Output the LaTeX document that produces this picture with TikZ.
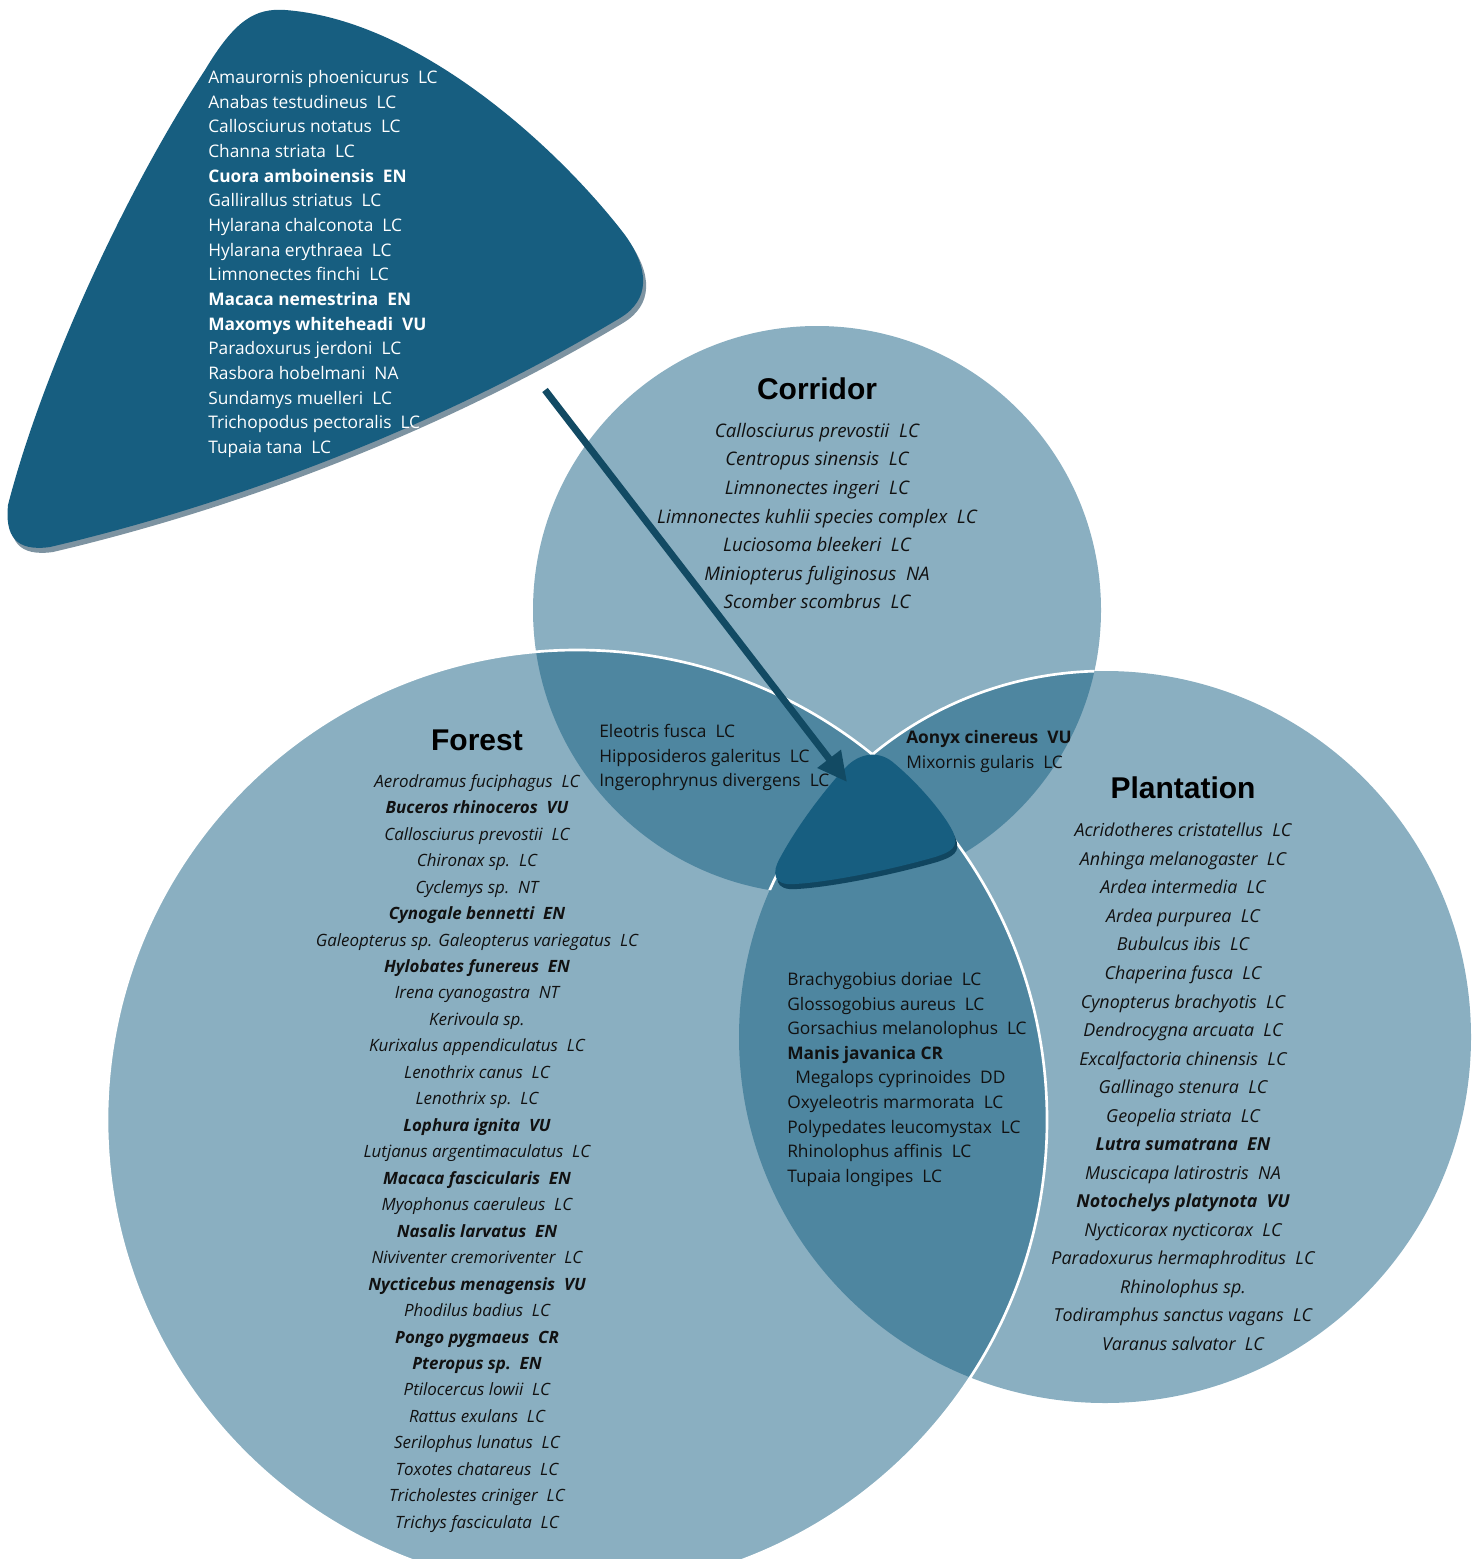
\documentclass[tikz,border=0pt]{standalone}
\usepackage{fontspec}
\setmainfont{Open Sans}
\newfontfamily\headfont{Liberation Sans}
\usetikzlibrary{arrows.meta,positioning}

\definecolor{ringlight}{HTML}{8AAFC1}
\definecolor{ringmid}{HTML}{4E86A0}
\definecolor{ringdark}{HTML}{175E80}
\definecolor{pointerblue}{HTML}{124A63}
\definecolor{shadowgrey}{HTML}{7D93A1}
\definecolor{listtext}{HTML}{111111}

\begin{document}
\begin{tikzpicture}[x=0.75pt,y=-0.75pt,
    title/.style={font=\headfont\bfseries\fontsize{22.5}{27}\selectfont, inner sep=0},
    ringlist/.style={font=\itshape\fontsize{14}{21.4}\selectfont, align=center,
                     anchor=north, inner sep=0, text=listtext},
    lapflush/.style={font=\fontsize{13}{18.45}\selectfont, align=left,
                     anchor=north west, inner sep=0, text=listtext},
    pointer/.style={line width=5.2pt, pointerblue, -{Triangle[length=22pt,width=21pt]}}]

\clip (0,0) rectangle (1473,1559);

\coordinate (corridorc) at (817,610);
\coordinate (forestc) at (577,1120);
\coordinate (plantc) at (1105,1037);

% the three sets
\fill[ringlight] (corridorc) circle [radius=284];
\fill[ringlight] (forestc) circle [radius=470];
\fill[ringlight] (plantc) circle [radius=366];

% overlaps
\begin{scope}
  \clip (corridorc) circle [radius=284];
  \fill[ringmid] (forestc) circle [radius=470];
  \fill[ringmid] (plantc) circle [radius=366];
\end{scope}
\begin{scope}
  \clip (forestc) circle [radius=470];
  \fill[ringmid] (plantc) circle [radius=366];
\end{scope}

% white rims
\draw[white, line width=2pt] (forestc) circle [radius=470];
\begin{scope}
  \clip (corridorc) circle [radius=284];
  \draw[white, line width=2pt] (plantc) circle [radius=366];
\end{scope}

% shared core
\fill[ringdark!75!black] (847,773) .. controls (862,757) and (882,755) .. (897,769)
  .. controls (922,790) and (947,820) .. (955,837)
  .. controls (962,853) and (952,857) .. (937,862)
  .. controls (892,875) and (832,887) .. (797,889)
  .. controls (774,891) and (774,877) .. (782,863)
  .. controls (797,835) and (822,800) .. (847,773) -- cycle;
\fill[ringdark] (845,768) .. controls (860,752) and (880,750) .. (895,764)
  .. controls (920,785) and (945,815) .. (953,832)
  .. controls (960,848) and (950,852) .. (935,857)
  .. controls (890,870) and (830,882) .. (795,884)
  .. controls (772,886) and (772,872) .. (780,858)
  .. controls (795,830) and (820,795) .. (845,768) -- cycle;

% callout
\fill[shadowgrey] (208,75) .. controls (238,25) and (258,13) .. (288,15)
  .. controls (423,25) and (563,155) .. (628,240)
  .. controls (653,275) and (653,305) .. (623,323)
  .. controls (453,425) and (253,505) .. (53,552)
  .. controls (18,557) and (8,540) .. (11,510)
  .. controls (43,385) and (123,205) .. (208,75) -- cycle;
\fill[ringdark] (205,70) .. controls (235,20) and (255,8) .. (285,10)
  .. controls (420,20) and (560,150) .. (625,235)
  .. controls (650,270) and (650,300) .. (620,318)
  .. controls (450,420) and (250,500) .. (50,547)
  .. controls (15,552) and (5,535) .. (8,505)
  .. controls (40,380) and (120,200) .. (205,70) -- cycle;

\node (extra) [lapflush, text=white, font=\fontsize{13}{18.5}\selectfont] at (208,70) {
  Amaurornis phoenicurus~~LC\\
  Anabas testudineus~~LC\\
  Callosciurus notatus~~LC\\
  Channa striata~~LC\\
  \textbf{Cuora amboinensis~~EN}\\
  Gallirallus striatus~~LC\\
  Hylarana chalconota~~LC\\
  Hylarana erythraea~~LC\\
  Limnonectes finchi~~LC\\
  \textbf{Macaca nemestrina~~EN}\\
  \textbf{Maxomys whiteheadi~~VU}\\
  Paradoxurus jerdoni~~LC\\
  Rasbora hobelmani~~NA\\
  Sundamys muelleri~~LC\\
  Trichopodus pectoralis~~LC\\
  Tupaia tana~~LC};

\coordinate (src) at (545,390);
\coordinate (coretip) at (847,782);
\draw[pointer] (src) -- (coretip);

% titles
\node (corridor) [title] at (817,389) {Corridor};
\node (forest) [title] at (477,740) {Forest};
\node (plantation) [title] at (1183,788) {Plantation};

\node (corridorlist) [ringlist] at (817,423) {
  Callosciurus prevostii~~LC\\
  Centropus sinensis~~LC\\
  Limnonectes ingeri~~LC\\
  Limnonectes kuhlii species complex~~LC\\
  Luciosoma bleekeri~~LC\\
  Miniopterus fuliginosus~~NA\\
  Scomber scombrus~~LC};

\node (forestlist) [ringlist, font=\itshape\fontsize{12.7}{19.85}\selectfont] at (477,774) {
  Aerodramus fuciphagus~~LC\\
  \textbf{Buceros rhinoceros~~VU}\\
  Callosciurus prevostii~~LC\\
  Chironax sp.~~LC\\
  Cyclemys sp.~~NT\\
  \textbf{Cynogale bennetti~~EN}\\
  Galeopterus sp. Galeopterus variegatus~~LC\\
  \textbf{Hylobates funereus~~EN}\\
  Irena cyanogastra~~NT\\
  Kerivoula sp.\\
  Kurixalus appendiculatus~~LC\\
  Lenothrix canus~~LC\\
  Lenothrix sp.~~LC\\
  \textbf{Lophura ignita~~VU}\\
  Lutjanus argentimaculatus~~LC\\
  \textbf{Macaca fascicularis~~EN}\\
  Myophonus caeruleus~~LC\\
  \textbf{Nasalis larvatus~~EN}\\
  Niviventer cremoriventer~~LC\\
  \textbf{Nycticebus menagensis~~VU}\\
  Phodilus badius~~LC\\
  \textbf{Pongo pygmaeus~~CR}\\
  \textbf{Pteropus sp.~~EN}\\
  Ptilocercus lowii~~LC\\
  Rattus exulans~~LC\\
  Serilophus lunatus~~LC\\
  Toxotes chatareus~~LC\\
  Tricholestes criniger~~LC\\
  Trichys fasciculata~~LC};

\node (plantationlist) [ringlist, font=\itshape\fontsize{13.4}{21.4}\selectfont] at (1183,823) {
  Acridotheres cristatellus~~LC\\
  Anhinga melanogaster~~LC\\
  Ardea intermedia~~LC\\
  Ardea purpurea~~LC\\
  Bubulcus ibis~~LC\\
  Chaperina fusca~~LC\\
  Cynopterus brachyotis~~LC\\
  Dendrocygna arcuata~~LC\\
  Excalfactoria chinensis~~LC\\
  Gallinago stenura~~LC\\
  Geopelia striata~~LC\\
  \textbf{Lutra sumatrana~~EN}\\
  Muscicapa latirostris~~NA\\
  \textbf{Notochelys platynota~~VU}\\
  Nycticorax nycticorax~~LC\\
  Paradoxurus hermaphroditus~~LC\\
  Rhinolophus sp.\\
  Todiramphus sanctus vagans~~LC\\
  Varanus salvator~~LC};

% shared species
\node (forestcorridor) [lapflush, font=\fontsize{13}{18.4}\selectfont] at (599,724) {
  Eleotris fusca~~LC\\
  Hipposideros galeritus~~LC\\
  Ingerophrynus divergens~~LC};

\node (corridorplant) [lapflush, font=\fontsize{13}{18.75}\selectfont] at (906,730) {
  \textbf{Aonyx cinereus~~VU}\\
  Mixornis gularis~~LC};

\node (forestplant) [lapflush] at (787,972) {
  Brachygobius doriae~~LC\\
  Glossogobius aureus~~LC\\
  Gorsachius melanolophus~~LC\\
  \textbf{Manis javanica CR}\\
  \hspace*{6pt}Megalops cyprinoides~~DD\\
  Oxyeleotris marmorata~~LC\\
  Polypedates leucomystax~~LC\\
  Rhinolophus affinis~~LC\\
  Tupaia longipes~~LC};

\end{tikzpicture}
\end{document}
